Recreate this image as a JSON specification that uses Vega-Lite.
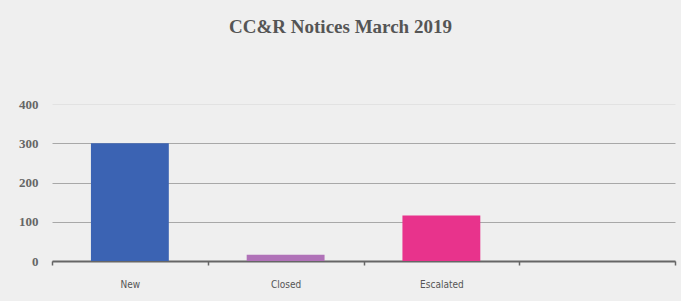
{
  "$schema": "https://vega.github.io/schema/vega-lite/v6.json",
  "width": 623,
  "height": 157,
  "autosize": "none",
  "padding": {"left": 52, "top": 104, "right": 6, "bottom": 40},
  "background": "#efefef",
  "title": {
    "text": "CC&R Notices March 2019",
    "anchor": "middle",
    "dx": -23,
    "offset": 61,
    "font": "Liberation Serif",
    "fontSize": 19,
    "fontWeight": "bold",
    "color": "#555555"
  },
  "data": {
    "values": [
      {"status": "New", "count": 300},
      {"status": "Closed", "count": 16},
      {"status": "Escalated", "count": 116}
    ]
  },
  "mark": {"type": "bar", "width": {"band": 0.5}},
  "encoding": {
    "x": {
      "field": "status",
      "type": "nominal",
      "sort": null,
      "scale": {"domain": ["New", "Closed", "Escalated", " "], "paddingInner": 0, "paddingOuter": 0},
      "axis": {
        "title": null,
        "labelAngle": 0,
        "labelFont": "DejaVu Sans Condensed",
        "labelFontSize": 10,
        "labelColor": "#555555",
        "labelPadding": 14,
        "domainColor": "#666666",
        "domainWidth": 2,
        "tickBand": "extent",
        "tickColor": "#666666",
        "tickSize": 4,
        "tickWidth": 1.5,
        "grid": false
      }
    },
    "y": {
      "field": "count",
      "type": "quantitative",
      "scale": {"domain": [0, 400]},
      "axis": {
        "title": null,
        "values": [0, 100, 200, 300, 400],
        "domain": false,
        "ticks": false,
        "labelFont": "Liberation Serif",
        "labelFontSize": 13,
        "labelFontWeight": "bold",
        "labelColor": "#666666",
        "labelPadding": 14,
        "gridColor": {"condition": {"test": "datum.value === 400", "value": "#e2e2e2"}, "value": "#a8a8a8"},
        "gridWidth": 1
      }
    },
    "color": {
      "field": "status",
      "type": "nominal",
      "scale": {"domain": ["New", "Closed", "Escalated"], "range": ["#3b63b3", "#b072b8", "#e8338c"]},
      "legend": null
    }
  },
  "config": {"view": {"stroke": null}}
}
